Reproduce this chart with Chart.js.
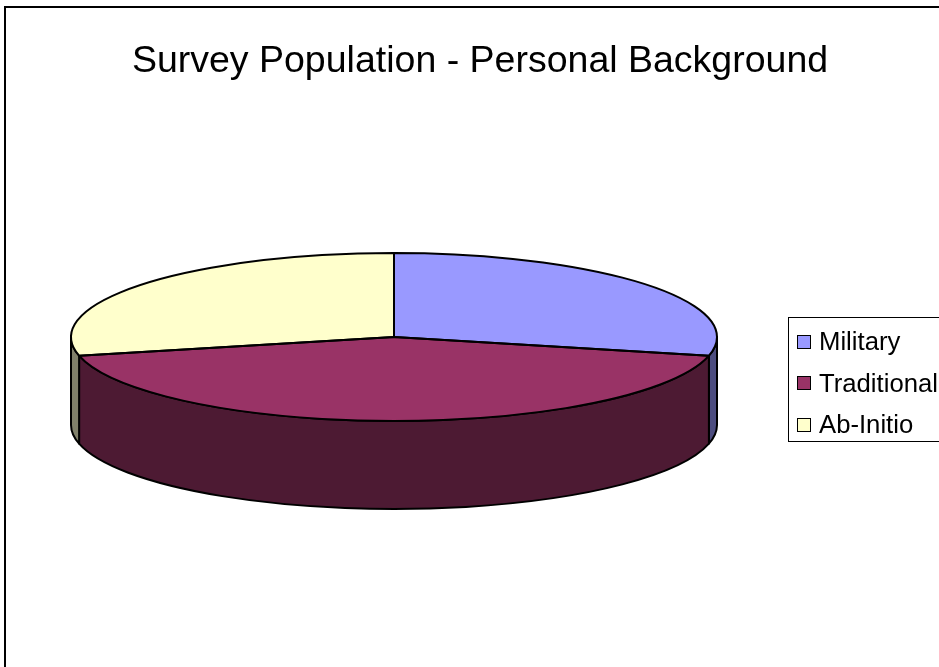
<!DOCTYPE html>
<html lang="en">
<head>
  <meta charset="UTF-8" />
  <title>Survey Population - Personal Background</title>
  <script src="https://cdn.jsdelivr.net/npm/chart.js"></script>
  <style>
    html, body { margin: 0; padding: 0; background: #fff; overflow: hidden; }
    body { width: 939px; height: 667px; position: relative; font-family: 'Liberation Sans', Arial, sans-serif; }
    #frame {
      position: absolute; left: 4px; top: 6px; width: 960px; height: 700px;
      border-left: 2px solid #000; border-top: 2px solid #000;
    }
    canvas { position: absolute; left: 0; top: 0; }
    h1 {
      position: absolute; left: 0; top: 41px; width: 960px; margin: 0;
      font-size: 37.5px; line-height: 37px; font-weight: normal; text-align: center; color: #000;
    }
    #legend {
      position: absolute; left: 788px; top: 317px; width: 170px; height: 125px;
      border: 1px solid #000; padding-top: 3px; box-sizing: border-box;
    }
    #legend div {
      display: flex; align-items: center; height: 41.5px; padding-left: 8px;
      font-size: 25.7px; color: #000; white-space: nowrap;
    }
    #legend span.box {
      display: inline-block; width: 12px; height: 12px; border: 1px solid #000; margin-right: 8px;
    }
  </style>
</head>
<body>
  <div id="frame"></div>
  <canvas id="chart" width="939" height="667"></canvas>
  <h1>Survey Population - Personal Background</h1>
  <div id="legend"></div>

  <script>
    const categories = ['Military', 'Traditional', 'Ab-Initio'];
    const counts = [4, 6, 4];

    const topColors = ['#9999FF', '#993366', '#FFFFCC'];
    const sideColors = ['#4D4D80', '#4D1A33', '#80806A'];

    // squash the pie into an ellipse and give it a front wall
    const tilt = 84 / 323;
    const depth = 88;

    const pie3d = {
      id: 'pie3d',
      beforeDatasetsDraw(chart) {
        const ctx = chart.ctx;
        const arcs = chart.getDatasetMeta(0).data;
        ctx.save();
        ctx.lineWidth = 2;
        ctx.strokeStyle = '#000';
        ctx.lineJoin = 'round';
        arcs.forEach((arc, i) => {
          const t0 = Math.max(arc.startAngle, 0);
          const t1 = Math.min(arc.endAngle, Math.PI);
          if (t1 <= t0) return;
          const r = arc.outerRadius;
          ctx.beginPath();
          ctx.ellipse(arc.x, arc.y, r, r * tilt, 0, t0, t1);
          ctx.ellipse(arc.x, arc.y + depth, r, r * tilt, 0, t1, t0, true);
          ctx.closePath();
          ctx.fillStyle = sideColors[i];
          ctx.fill();
          ctx.stroke();
        });
        ctx.restore();

        const a = arcs[0];
        ctx.save();
        ctx.translate(a.x, a.y);
        ctx.scale(1, tilt);
        ctx.translate(-a.x, -a.y);
      },
      afterDatasetsDraw(chart) {
        const ctx = chart.ctx;
        ctx.restore();
        const arcs = chart.getDatasetMeta(0).data;
        ctx.save();
        ctx.lineWidth = 2;
        ctx.strokeStyle = '#000';
        ctx.lineJoin = 'round';
        arcs.forEach(arc => {
          const r = arc.outerRadius;
          ctx.beginPath();
          ctx.moveTo(arc.x, arc.y);
          ctx.ellipse(arc.x, arc.y, r, r * tilt, 0, arc.startAngle, arc.endAngle);
          ctx.closePath();
          ctx.stroke();
        });
        ctx.restore();
      }
    };

    const chart = new Chart(document.getElementById('chart'), {
      type: 'pie',
      data: {
        labels: categories,
        datasets: [{
          data: counts,
          backgroundColor: topColors,
          borderWidth: 0,
          clip: false
        }]
      },
      options: {
        responsive: false,
        animation: false,
        events: [],
        layout: { padding: { left: 71, right: 222, top: 14, bottom: 7 } },
        plugins: {
          legend: { display: false },
          title: { display: false },
          tooltip: { enabled: false }
        }
      },
      plugins: [pie3d]
    });

    const legend = document.getElementById('legend');
    categories.forEach((name, i) => {
      const row = document.createElement('div');
      const box = document.createElement('span');
      box.className = 'box';
      box.style.background = topColors[i];
      row.appendChild(box);
      row.appendChild(document.createTextNode(name));
      legend.appendChild(row);
    });
  </script>
</body>
</html>
